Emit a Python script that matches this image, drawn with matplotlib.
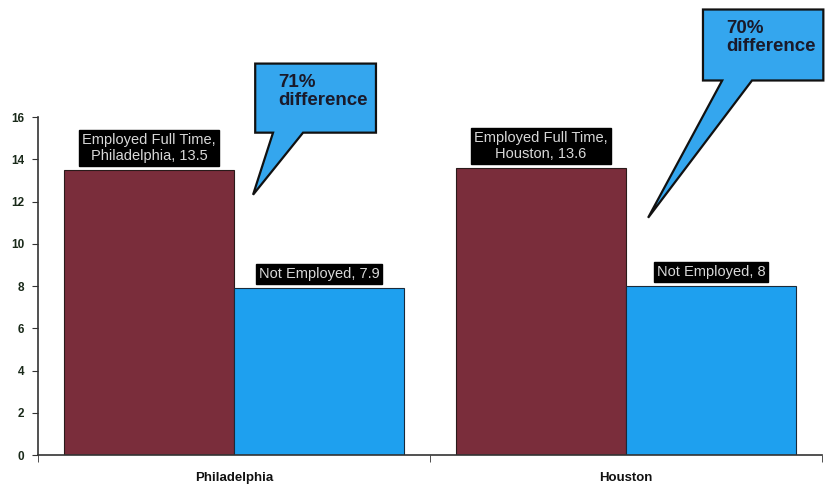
import numpy as np
import matplotlib.pyplot as plt
from matplotlib.patches import Polygon

plt.rcParams['font.family'] = ['Liberation Sans', 'DejaVu Sans']

# employment status by city
cities = ['Philadelphia', 'Houston']
employed = [13.5, 13.6]
not_employed = [7.9, 8]
diff_labels = ['71%\ndifference', '70%\ndifference']

maroon = '#7a2d3b'
blue = '#1ea0ef'
callout_blue = '#34a6ee'

fig = plt.figure(figsize=(8.33, 4.87), dpi=100)
ax = fig.add_axes([0.0456, 0.0657, 0.9414, 0.694])

x = np.arange(len(cities))
w = 0.434
ax.bar(x - w / 2, employed, w, color=maroon, edgecolor='#2a1a1a', linewidth=0.8)
ax.bar(x + w / 2, not_employed, w, color=blue, edgecolor='#1a2a3a', linewidth=0.8)

# data labels in black boxes above each bar
box = dict(boxstyle='square,pad=0.2', facecolor='black', edgecolor='black')
for i, c in enumerate(cities):
    ax.annotate(f'Employed Full Time,\n{c}, {employed[i]:g}', (x[i] - w / 2, employed[i]),
                xytext=(0, 5), textcoords='offset points', ha='center', va='bottom',
                fontsize=10.5, color='#d8d8d8', bbox=box, linespacing=1.15)
    ax.annotate(f'Not Employed, {not_employed[i]:g}', (x[i] + w / 2, not_employed[i]),
                xytext=(0, 5), textcoords='offset points', ha='center', va='bottom',
                fontsize=10.5, color='#d8d8d8', bbox=box)

# speech-bubble callouts: box corners, tail base and tip (data coords)
callouts = [
    dict(box=(0.054, 0.362, 15.26, 18.53), tail=(0.0995, 0.176), tip=(0.0485, 12.32)),
    dict(box=(1.196, 1.503, 17.73, 21.09), tail=(1.245, 1.321), tip=(1.056, 11.23)),
]
for cl, txt in zip(callouts, diff_labels):
    x0, x1, y0, y1 = cl['box']
    t0, t1 = cl['tail']
    pts = [(x0, y0), (t0, y0), cl['tip'], (t1, y0), (x1, y0), (x1, y1), (x0, y1)]
    ax.add_patch(Polygon(pts, closed=True, facecolor=callout_blue, edgecolor='#111111',
                         linewidth=1.6, clip_on=False, zorder=5))
    ax.text(x0 + 0.06, y1 - 0.5, txt, ha='left', va='top', fontsize=13.5,
            fontweight='bold', color='#1a1a2a', linespacing=1.1, zorder=6, clip_on=False)

ax.set_xlim(-0.5, 1.5)
ax.set_ylim(0, 16)
ax.set_yticks(np.arange(0, 17, 2))
ax.set_xticks(x)
ax.set_xticklabels(cities, fontsize=9.5, fontweight='bold', color='#111111')
ax.set_xticks([-0.5, 0.5, 1.5], minor=True)
ax.tick_params(axis='x', which='major', length=0, pad=12)
ax.tick_params(axis='x', which='minor', length=5, direction='out', color='#333333')
ax.tick_params(axis='y', length=4, direction='out', color='#333333', labelsize=8.5, pad=6)
for lab in ax.get_yticklabels():
    lab.set_fontweight('bold')
    lab.set_color('#1a2a1a')

for s in ['top', 'right']:
    ax.spines[s].set_visible(False)
for s in ['left', 'bottom']:
    ax.spines[s].set_color('#333333')
    ax.spines[s].set_linewidth(1.2)

fig.savefig('out.png', dpi=100)
